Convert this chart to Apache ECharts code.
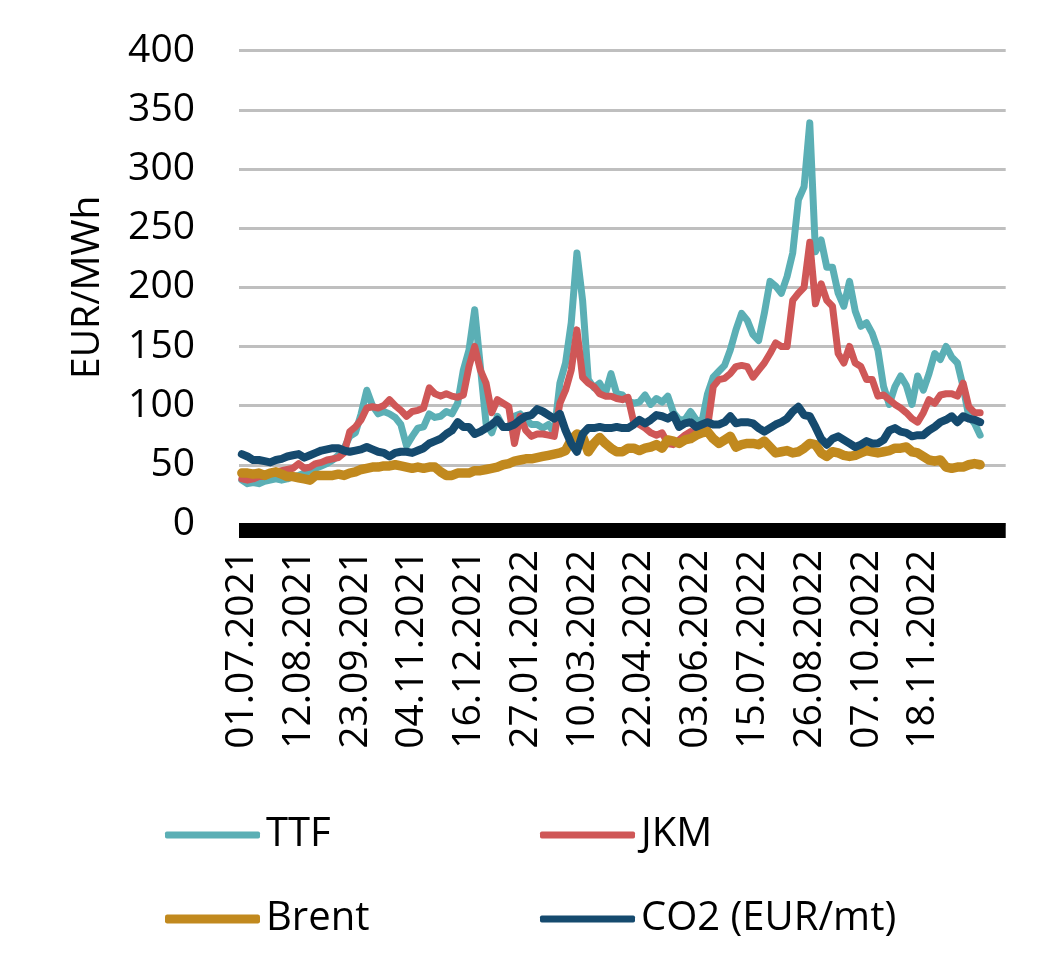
<!DOCTYPE html>
<html>
<head>
<meta charset="utf-8">
<script src="https://cdn.jsdelivr.net/npm/echarts@6/dist/echarts.min.js"></script>
<style>
html,body{margin:0;padding:0;background:#fff;}
#chart{width:1055px;height:980px;}
</style>
</head>
<body>
<div id="chart"></div>
<script>
// Sampled every 3rd business day from 01.07.2021 (labels every 30 business days)
const seriesNames = ['TTF', 'JKM', 'Brent', 'CO2 (EUR/mt)'];
const ttf = [
  37,34,35,34,36,37,38,37,38,40,
  41,43,45,47,49,51,54,58,64,74,
  77,93,113,100,93,95,93,90,84,66,
  74,81,82,93,90,91,95,93,102,130,
  147,181,133,85,77,91,82,82,91,93,
  88,84,84,81,84,77,119,136,170,229,
  189,122,115,119,110,127,110,109,104,102,
  103,109,101,106,103,108,94,88,88,95,
  88,86,110,124,129,134,147,164,178,172,
  160,155,178,205,201,195,209,229,274,285,
  339,230,240,217,217,195,184,205,180,167,
  170,161,147,116,101,116,125,117,101,125,
  113,127,144,139,150,141,136,116,91,85,75
];
const jkm = [
  38,37,38,40,40,43,44,45,46,47,
  51,47,48,51,52,54,55,56,60,78,
  82,88,98,99,98,100,105,100,96,91,
  95,96,98,115,110,108,110,108,107,109,
  133,150,130,119,94,105,102,99,68,91,
  79,74,76,76,75,74,102,113,130,164,
  124,119,116,110,108,108,106,105,107,86,
  84,81,77,75,77,68,67,71,75,78,
  77,78,82,116,122,123,127,133,134,133,
  124,130,136,144,153,150,150,189,195,200,
  238,186,203,189,184,144,136,150,136,133,
  122,122,108,109,105,101,98,94,89,86,
  94,105,102,109,110,110,108,119,99,94,94
];
const brent = [
  43,43,42,43,41,43,44,42,40,40,
  39,38,37,41,41,41,41,42,41,43,
  44,46,47,48,48,49,49,50,49,48,
  47,48,47,48,48,44,41,41,43,43,
  43,45,45,46,47,48,50,51,53,54,
  55,55,56,57,58,59,60,62,71,76,
  74,61,68,73,68,64,61,61,64,64,
  62,64,65,67,64,71,70,68,71,72,
  75,77,78,72,68,71,74,65,67,68,
  68,67,70,65,60,61,62,60,61,64,
  68,67,60,57,61,60,58,57,58,60,
  62,61,60,61,62,64,64,65,61,60,
  57,54,53,54,48,47,48,48,50,51,50
];
const co2 = [
  59,57,54,54,53,52,54,55,57,58,
  59,56,58,60,62,63,64,64,62,61,
  62,63,65,63,61,60,57,60,61,61,
  60,62,64,68,70,72,76,79,86,82,
  82,76,78,81,84,88,82,82,84,88,
  91,92,97,95,92,89,93,79,68,61,
  76,81,81,82,81,81,82,81,81,84,
  88,85,88,92,91,89,92,82,85,86,
  82,84,86,84,84,86,91,85,86,86,
  85,81,78,81,84,86,89,95,99,92,
  91,82,72,67,72,74,71,68,65,67,
  70,68,68,71,79,81,78,77,74,75,
  75,79,82,86,88,91,86,91,89,88,86
];
const yTicks = [0, 50, 100, 150, 200, 250, 300, 350, 400];
const colors = ['#5BAFB5', '#CF5757', '#C1891E', '#154A6E'];

// category axis: business days (Good Friday 2022 closed), every 3rd day
const holidays = ['15.04.2022'];
function pad(n){ return (n < 10 ? '0' : '') + n; }
function fmt(d){ return pad(d.getUTCDate()) + '.' + pad(d.getUTCMonth() + 1) + '.' + d.getUTCFullYear(); }
const businessDays = [];
let d = new Date(Date.UTC(2021, 6, 1));
while (businessDays.length < 405) {
  const wd = d.getUTCDay();
  const s = fmt(d);
  if (wd !== 0 && wd !== 6 && holidays.indexOf(s) < 0) businessDays.push(s);
  d = new Date(d.getTime() + 86400000);
}
const categories = businessDays.filter((_, i) => i % 3 === 0);

const FONT = "'Open Sans', 'DejaVu Sans', sans-serif";
const widths = [7, 7, 9.5, 8];
const series = [ttf, jkm, brent, co2].map((arr, k) => ({
  name: seriesNames[k],
  type: 'line',
  data: arr,
  symbol: 'none',
  showSymbol: false,
  z: 2 + k,
  lineStyle: { color: colors[k], width: widths[k], cap: 'round', join: 'round' },
  itemStyle: { color: colors[k] }
}));

const legendPos = [
  { left: 165, top: 815 },
  { left: 540, top: 815 },
  { left: 165, top: 899 },
  { left: 540, top: 899 }
];
const legends = seriesNames.map((n, k) => ({
  data: [n],
  left: legendPos[k].left,
  top: legendPos[k].top,
  padding: 0,
  itemWidth: 95,
  itemHeight: k === 2 ? 9 : 7,
  itemGap: 0,
  icon: 'roundRect',
  selectedMode: false,
  textStyle: { fontFamily: FONT, fontSize: 40, color: '#000', padding: [0, 0, 0, 1] }
}));

const chart = echarts.init(document.getElementById('chart'), null, { renderer: 'canvas' });
chart.setOption({
  animation: false,
  color: colors,
  backgroundColor: '#fff',
  grid: { left: 239, right: 49.3, top: 50.7, bottom: 456.1, containLabel: false },
  legend: legends,
  xAxis: {
    type: 'category',
    data: categories,
    boundaryGap: true,
    offset: 6,
    axisLine: { show: true, onZero: false, lineStyle: { color: '#000', width: 15, cap: 'butt' } },
    axisTick: { show: false },
    splitLine: { show: false },
    axisLabel: {
      rotate: 90,
      margin: 20,
      interval: function (i) { return i % 10 === 0 && i <= 120; },
      fontFamily: FONT,
      fontSize: 39,
      color: '#000'
    }
  },
  yAxis: {
    type: 'value',
    min: yTicks[0],
    max: yTicks[yTicks.length - 1],
    interval: yTicks[1] - yTicks[0],
    name: 'EUR/MWh',
    nameLocation: 'middle',
    nameRotate: 90,
    nameGap: 132,
    nameTextStyle: { fontFamily: FONT, fontSize: 39, color: '#000' },
    axisLine: { show: false },
    axisTick: { show: false },
    splitLine: { lineStyle: { color: '#BFBFBF', width: 3 } },
    axisLabel: { margin: 44, fontFamily: FONT, fontSize: 39, color: '#000' }
  },
  series: series
});
</script>
</body>
</html>
